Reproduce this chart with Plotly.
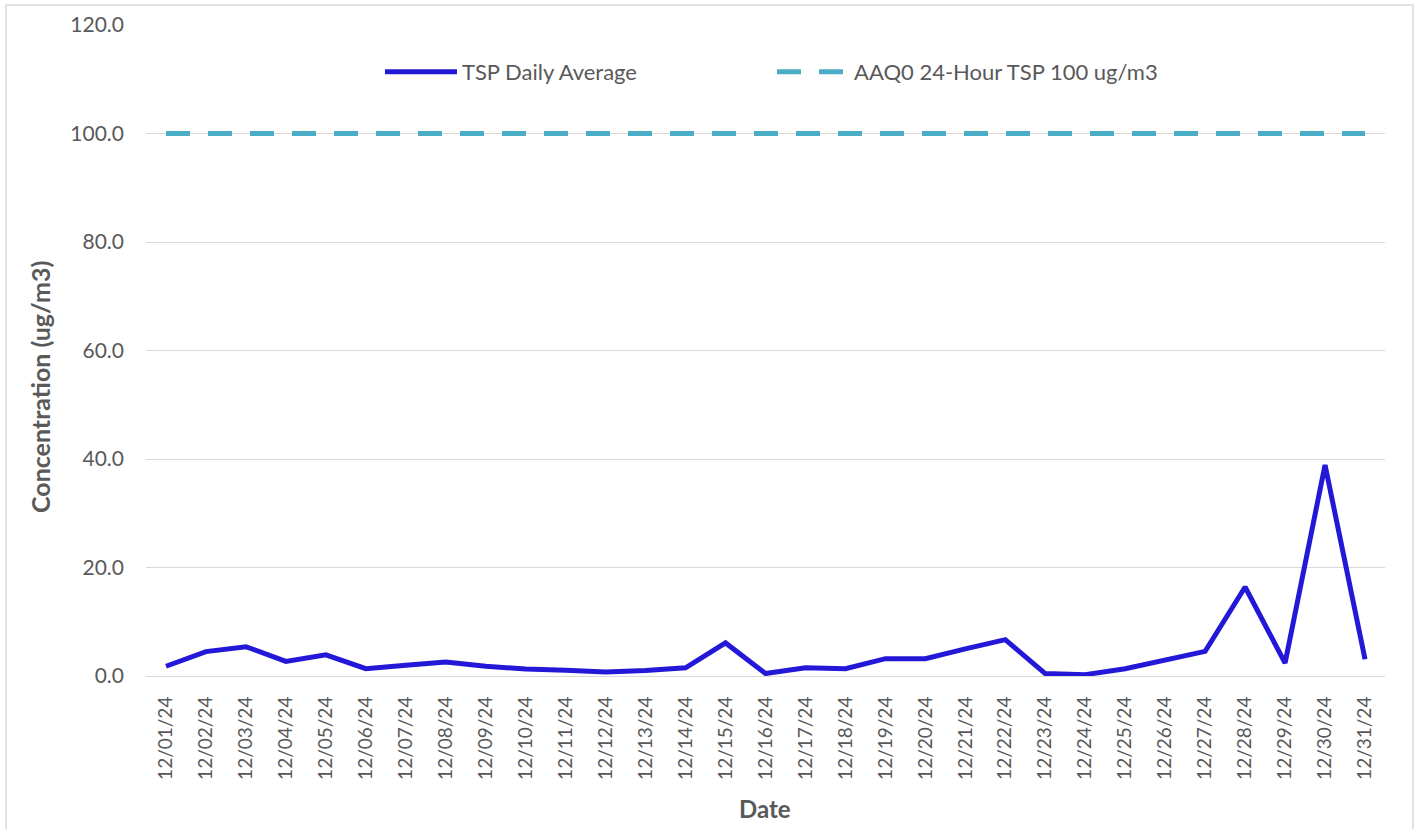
import plotly.graph_objects as go

dates = ["12/01/24","12/02/24","12/03/24","12/04/24","12/05/24","12/06/24","12/07/24","12/08/24",
         "12/09/24","12/10/24","12/11/24","12/12/24","12/13/24","12/14/24","12/15/24","12/16/24",
         "12/17/24","12/18/24","12/19/24","12/20/24","12/21/24","12/22/24","12/23/24","12/24/24",
         "12/25/24","12/26/24","12/27/24","12/28/24","12/29/24","12/30/24","12/31/24"]
tsp_daily = [1.8, 4.5, 5.4, 2.7, 3.9, 1.35, 2.0, 2.6, 1.8, 1.3, 1.05, 0.75, 1.0, 1.5, 6.1, 0.45,
             1.5, 1.35, 3.2, 3.2, 5.0, 6.7, 0.44, 0.25, 1.35, 3.0, 4.55, 16.4, 2.4, 38.9, 3.1]
aaqo_limit = [100.0] * len(dates)

FONT = "Lato"
GRAY = "#595959"

fig = go.Figure()
fig.add_trace(go.Scatter(x=dates, y=tsp_daily, mode="lines", name="TSP Daily Average",
                         line=dict(color="#2418D8", width=5)))
fig.add_trace(go.Scatter(x=dates, y=aaqo_limit, mode="lines", name="AAQ0 24-Hour TSP 100 ug/m3",
                         line=dict(color="#4BACC6", width=5, dash="24px,18px")))

L, R, T, B = 146, 34, 25, 153
W, H = 1419, 829
pw, ph = W - L - R, H - T - B

def px_x(p):
    return (p - L) / pw

def px_y(p):
    return (H - B - p) / ph

fig.update_layout(
    width=W, height=H,
    margin=dict(l=L, r=R, t=T, b=B, autoexpand=False),
    paper_bgcolor="white", plot_bgcolor="white",
    font=dict(family=FONT, color=GRAY, size=20),
    showlegend=True,
    legend=dict(orientation="h", x=px_x(380), y=px_y(72), xanchor="left", yanchor="middle",
                font=dict(size=22, color=GRAY), entrywidth=305, entrywidthmode="pixels",
                itemwidth=72, bgcolor="rgba(0,0,0,0)"),
    xaxis=dict(type="category", range=[-0.5, 30.5], tickangle=-90, showgrid=False,
               showline=True, linecolor="#D9D9D9", linewidth=1,
               tickfont=dict(size=19, color=GRAY), ticklabelstandoff=12),
    yaxis=dict(range=[0, 120], tickvals=[0, 20, 40, 60, 80, 100, 120], tickformat=".1f",
               showgrid=True, gridcolor="#D9D9D9", gridwidth=1, zeroline=False,
               tickfont=dict(size=21, color=GRAY), ticklabelstandoff=21),
    annotations=[
        dict(text="<b>Concentration (ug/m3)</b>", xref="paper", yref="paper",
             x=px_x(40), y=px_y(387), textangle=-90, showarrow=False,
             xanchor="center", yanchor="middle", font=dict(size=25, color=GRAY)),
        dict(text="<b>Date</b>", xref="paper", yref="paper",
             x=px_x(765), y=px_y(808), showarrow=False,
             xanchor="center", yanchor="middle", font=dict(size=24, color=GRAY)),
    ],
    shapes=[dict(type="rect", xref="paper", yref="paper",
                 x0=px_x(6), x1=px_x(1413), y0=px_y(832), y1=px_y(5),
                 line=dict(color="#D9D9D9", width=1.5), fillcolor="rgba(0,0,0,0)", layer="below")],
)

fig.write_html("out.html", config={"displayModeBar": False},
               post_script="document.body.style.margin='0';document.body.style.overflow='hidden';")
